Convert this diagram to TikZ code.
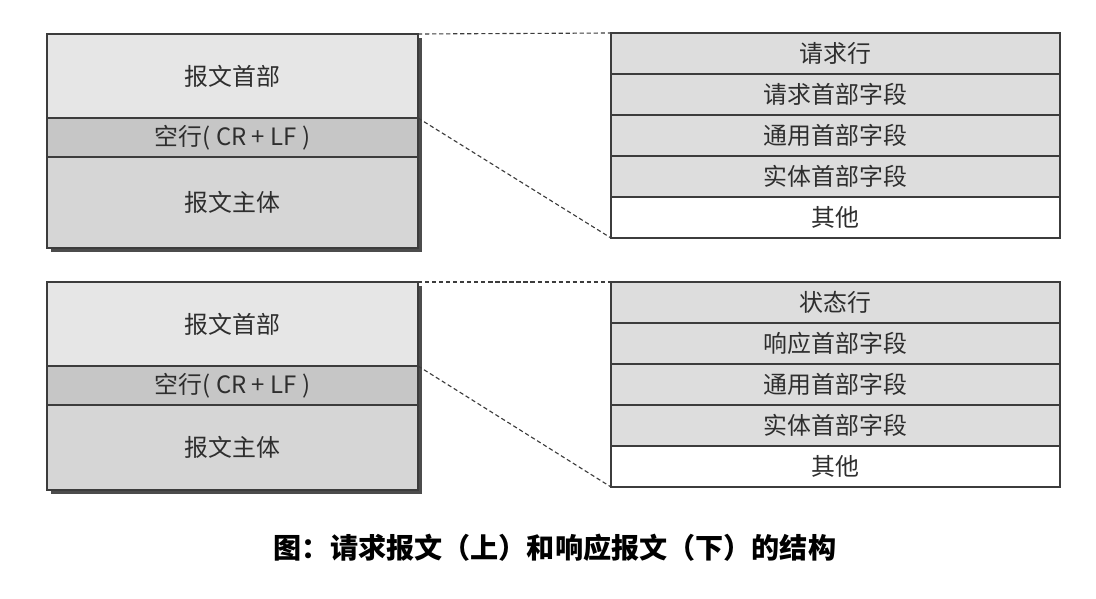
\documentclass[tikz,border=0pt]{standalone}
\usepackage{fontspec}
\newfontfamily\cjk{Noto Sans CJK SC}
\usetikzlibrary{positioning, shadows}
\definecolor{cLine}{HTML}{3C3C3C}
\definecolor{cHead}{HTML}{E6E6E6}
\definecolor{cBlank}{HTML}{C6C6C6}
\definecolor{cBody}{HTML}{D6D6D6}
\definecolor{cField}{HTML}{DDDDDD}
\definecolor{cText}{HTML}{2E2E2E}

\begin{document}
\begin{tikzpicture}[
    x=1cm, y=1cm, font=\cjk\fontsize{17}{20}\selectfont, text=cText,
    seg/.style={draw=cLine, line width=0.8pt, minimum width=9.275cm,
                inner sep=0pt, outer sep=0pt},
    hdr/.style={seg, fill=cHead, minimum height=2.1cm},
    emptyline/.style={seg, fill=cBlank, minimum height=0.975cm},
    body/.style={seg, fill=cBody},
    shdw/.style={drop shadow={shadow xshift=2.8pt, shadow yshift=-2.8pt,
                 fill=black!70, opacity=1}},
    field/.style={draw=cLine, line width=0.8pt, fill=cField,
                  minimum width=11.225cm, minimum height=1.025cm,
                  inner sep=0pt, outer sep=0pt},
    rest/.style={field, fill=white},
    link/.style={dash pattern=on 3pt off 2pt, line width=0.8pt, cLine},
    capt/.style={font=\cjk\bfseries\fontsize{20}{24}\selectfont, text=black},
]
\useasboundingbox (0,0) rectangle (27.4,14.95);

% ===================== 请求报文 =====================
\node[hdr, shdw, anchor=north west] (reqHead) at (1.175,14.1) {报文首部};
\node[emptyline, shdw, below=0pt of reqHead] (reqBlank) {空行( CR + LF )};
\node[body, shdw, minimum height=2.275cm, below=0pt of reqBlank] (reqBody) {报文主体};

\node[field, anchor=north west] (reqLine) at (15.275,14.125) {请求行};
\node[field, below=0pt of reqLine] (reqFld) {请求首部字段};
\node[field, below=0pt of reqFld] (reqGen) {通用首部字段};
\node[field, below=0pt of reqGen] (reqEnt) {实体首部字段};
\node[rest, below=0pt of reqEnt] (reqOther) {其他};

\draw[link] (reqHead.north east) -- (reqLine.north west);
\draw[link] (reqBlank.north east) -- (reqOther.south west);

% ===================== 响应报文 =====================
\node[hdr, shdw, anchor=north west] (resHead) at (1.175,7.9) {报文首部};
\node[emptyline, shdw, below=0pt of resHead] (resBlank) {空行( CR + LF )};
\node[body, shdw, minimum height=2.125cm, below=0pt of resBlank] (resBody) {报文主体};

\node[field, anchor=north west] (resLine) at (15.275,7.9) {状态行};
\node[field, below=0pt of resLine] (resFld) {响应首部字段};
\node[field, below=0pt of resFld] (resGen) {通用首部字段};
\node[field, below=0pt of resGen] (resEnt) {实体首部字段};
\node[rest, below=0pt of resEnt] (resOther) {其他};

\draw[link] (resHead.north east) -- (resLine.north west);
\draw[link] (resBlank.north east) -- (resOther.south west);

% ===================== 图题 =====================
\node[capt] (caption) at (13.875,1.25) {图：请求报文（上）和响应报文（下）的结构};

\end{tikzpicture}
\end{document}
